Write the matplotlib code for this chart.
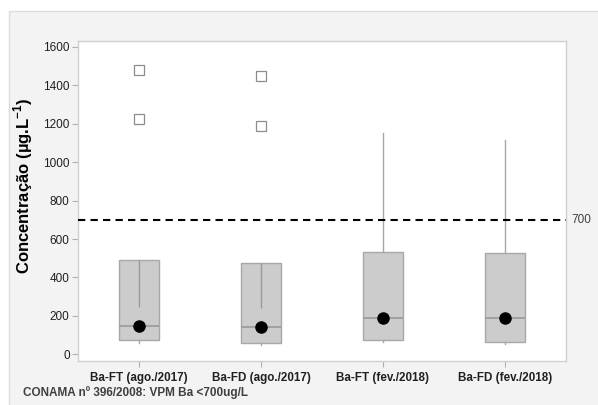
import matplotlib
matplotlib.use("Agg")
import matplotlib.pyplot as plt
from matplotlib.patches import Rectangle

plt.rcParams['font.family'] = ['Liberation Sans', 'DejaVu Sans']
plt.rcParams['mathtext.fontset'] = 'custom'
plt.rcParams['mathtext.rm'] = 'Liberation Sans'
plt.rcParams['mathtext.bf'] = 'Liberation Sans:bold'

categories = ["Ba-FT (ago./2017)", "Ba-FD (ago./2017)", "Ba-FT (fev./2018)", "Ba-FD (fev./2018)"]
q1 = [73, 60, 73, 64]
median = [149, 142, 190, 190]
q3 = [489, 476, 534, 525]
mean = [147, 140, 190, 190]
whisker_low = [60, 50, 62, 55]
whisker_high = [489, 476, 1150, 1118]
inner_low = [248, 242, None, None]
outliers = [[1479, 1224], [1448, 1189], [], []]
limit_value = 700
yticks = [0, 200, 400, 600, 800, 1000, 1200, 1400, 1600]

fig = plt.figure(figsize=(5.98, 4.05), dpi=100)
fig.patch.set_facecolor('white')
# grey panel behind the chart
fig.patches.append(Rectangle((9 / 598, -0.01), 1, 1.01 - 11 / 405, transform=fig.transFigure,
                             facecolor='#f3f3f3', edgecolor='#dcdcdc', lw=1.0, zorder=-10))

ax = fig.add_axes([78 / 598, 1 - 361 / 405, (566 - 78) / 598, (361 - 41) / 405])
ax.set_facecolor('white')

pos = list(range(1, len(categories) + 1))
stats = []
for i in range(len(categories)):
    stats.append(dict(med=median[i], q1=q1[i], q3=q3[i], whislo=whisker_low[i],
                      whishi=whisker_high[i], fliers=outliers[i], mean=mean[i]))

ax.bxp(stats, positions=pos, widths=0.333, patch_artist=True, showcaps=False,
       showmeans=True, manage_ticks=False,
       boxprops=dict(facecolor='#cccccc', edgecolor='#a8a8a8', lw=1.0),
       medianprops=dict(color='#9a9a9a', lw=1.2),
       whiskerprops=dict(color='#a8a8a8', lw=1.0),
       meanprops=dict(marker='o', markerfacecolor='black', markeredgecolor='black', markersize=8),
       flierprops=dict(marker='s', markerfacecolor='white', markeredgecolor='#8c8c8c',
                       markersize=7.5, markeredgewidth=0.9))

for p, lo, hi in zip(pos, inner_low, q3):
    if lo is not None:
        ax.vlines(p, lo, hi, color='#9a9a9a', lw=1.0, zorder=3)

ax.axhline(limit_value, color='black', ls=(0, (3.5, 2.5)), lw=1.5, zorder=4)
ax.text(1.012, limit_value, str(limit_value), transform=ax.get_yaxis_transform(),
        va='center', ha='left', fontsize=8.5, color='#404040')

ax.set_xlim(0.5, 4.5)
ax.set_ylim(-35, 1631)
ax.set_yticks(yticks)
ax.set_yticklabels([str(v) for v in yticks], fontsize=8.5, color='#202020')
ax.set_xticks(pos)
ax.set_xticklabels(categories, fontsize=8.4, fontweight='bold', color='#202020')
ax.tick_params(axis='both', color='#b0b0b0', length=4, width=0.8, pad=2)
ax.tick_params(axis='x', pad=4)
for s in ax.spines.values():
    s.set_color('#d0d0d0')
    s.set_linewidth(1.0)

ax.set_ylabel('Concentração (µg.L$^{\\mathbf{-1}}$)', fontsize=12, fontweight='bold')
ax.yaxis.set_label_coords(-0.088, 0.547)

fig.text(23 / 598, 1 - 393 / 405, 'CONAMA nº 396/2008: VPM Ba <700ug/L', fontsize=8.5,
         fontweight='bold', color='#404040', va='center', ha='left')

fig.savefig('out.png', dpi=100, facecolor=fig.get_facecolor())
